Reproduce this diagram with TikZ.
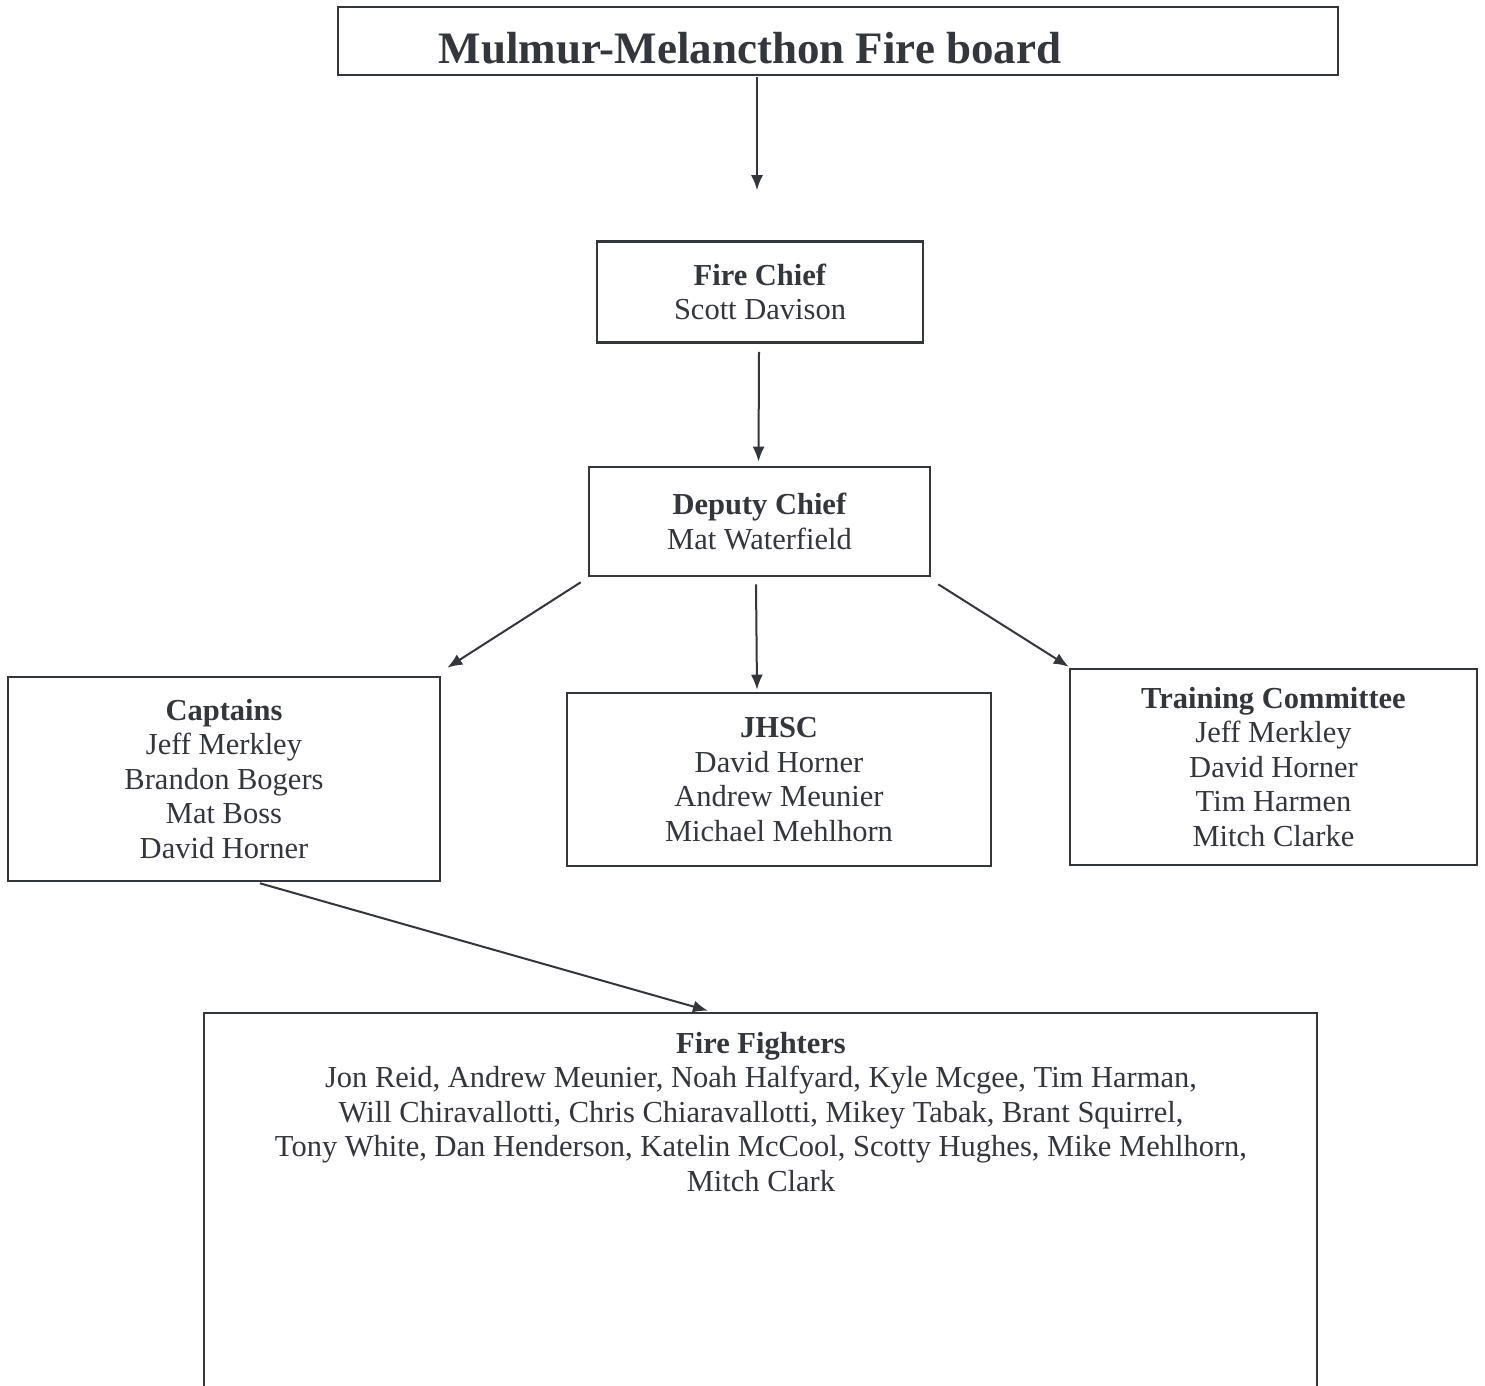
\documentclass[tikz,border=0pt]{standalone}
\usepackage{fontspec}
\setmainfont{Liberation Serif}
\usetikzlibrary{arrows.meta,calc}
\definecolor{ink}{HTML}{33363B}
\begin{document}
\begin{tikzpicture}[x=1pt,y=1pt,
  box/.style={draw=ink, line width=2.6pt, text=ink, align=center, inner sep=0pt,
              font=\fontsize{30.5}{34.5}\selectfont},
  conn/.style={draw=ink, line width=2pt, -{Latex[length=15pt,width=12pt]}}]
\useasboundingbox (0,0) rectangle (1485,-1386);
\fill[white] (0,0) rectangle (1485,-1386);
\clip (0,0) rectangle (1485,-1386);
% boxes
\node[box, line width=2pt, minimum width=1000, minimum height=68] (title) at (838,-41) {};
\node[text=ink, inner sep=0pt, font=\fontsize{45}{50}\selectfont\bfseries, anchor=base] (titletext) at (750,-64) {Mulmur-Melancthon Fire board};
\node[box, minimum width=326, minimum height=101] (fc) at (760,-292) {\textbf{Fire Chief}\\Scott Davison};
\node[box, minimum width=341, minimum height=109] (dc) at (759.5,-521.5) {\textbf{Deputy Chief}\\Mat Waterfield};
\node[box, minimum width=432, minimum height=204] (cap) at (224,-779) {\textbf{Captains}\\Jeff Merkley\\Brandon Bogers\\Mat Boss\\David Horner};
\node[box, minimum width=424, minimum height=173] (jh) at (779,-779.5) {\textbf{JHSC}\\David Horner\\Andrew Meunier\\Michael Mehlhorn};
\node[box, minimum width=407, minimum height=196] (tr) at (1273.5,-767) {\textbf{Training Committee}\\Jeff Merkley\\David Horner\\Tim Harmen\\Mitch Clarke};
\node[box, minimum width=1113, minimum height=500] (ff) at (760.5,-1263) {};
\node[text=ink, align=center, inner sep=0pt, anchor=north, font=\fontsize{30.5}{34.5}\selectfont] (fft) at (761,-1032)
  {\textbf{Fire Fighters}\\
   Jon Reid, Andrew Meunier, Noah Halfyard, Kyle Mcgee, Tim Harman,\\
   Will Chiravallotti, Chris Chiaravallotti, Mikey Tabak, Brant Squirrel,\\
   Tony White, Dan Henderson, Katelin McCool, Scotty Hughes, Mike Mehlhorn,\\
   Mitch Clark};
% connectors
\draw[conn, shorten >=50pt] ($(title.south -| fc.north)+(-3,-1)$) -- ($(fc.north)+(-3,0)$);
\draw[conn] ($(fc.south)+(-1,-8)$) -- ($(dc.north)+(-1,4)$);
\draw[conn] ($(dc.south west)+(-7,-5)$) -- ($(cap.north east)+(6,8)$);
\draw[conn] ($(dc.south)+(-3.5,-7)$) -- ($(jh.north)+(-22,2)$);
\draw[conn] ($(dc.south east)+(7,-7)$) -- ($(tr.north west)+(0,1)$);
\draw[conn] ($(cap.south)+(36,-1)$) -- ($(ff.north)+(-52.5,1)$);
\end{tikzpicture}
\end{document}
